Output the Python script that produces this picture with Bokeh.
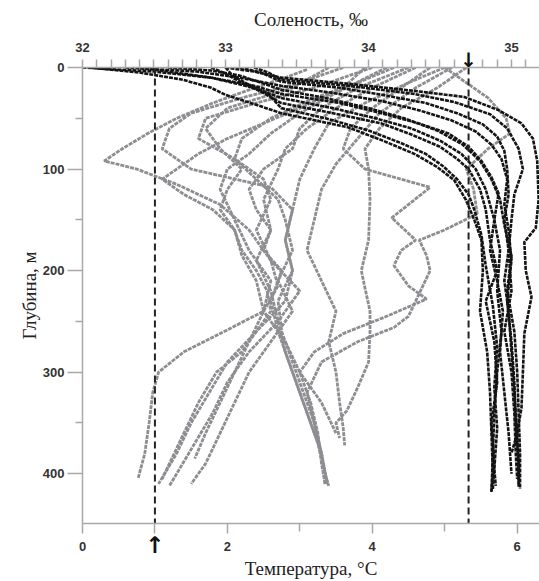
from bokeh.plotting import figure
from bokeh.models import Range1d, LinearAxis, FixedTicker
from bokeh.embed import file_html
from bokeh.resources import INLINE

# ---------------- data ----------------
# Temperature profiles (gray): depth (m) and temperature (°C)
t1_depth = [2, 10, 22, 35, 50, 65, 80, 92, 100, 115, 135, 160, 190, 215, 240, 262, 280, 300, 320, 350, 380, 404]
t1_temp = [3.1, 2.8, 2.3, 1.8, 1.3, 0.9, 0.55, 0.3, 0.75, 1.3, 1.9, 2.3, 2.6, 2.7, 2.5, 1.9, 1.4, 1.05, 0.97, 0.92, 0.86, 0.77]
t2_depth = [0, 15, 30, 45, 60, 80, 100, 118, 140, 170, 200, 230, 260, 290, 320, 350, 380, 410]
t2_temp = [3.6, 3.0, 2.2, 1.5, 1.2, 1.1, 1.5, 2.6, 2.9, 2.8, 2.9, 2.8, 2.4, 2.0, 1.75, 1.5, 1.3, 1.05]
t3_depth = [0, 20, 35, 50, 70, 90, 110, 130, 160, 190, 220, 250, 280, 310, 340, 370, 400, 412]
t3_temp = [4.0, 3.2, 2.4, 1.7, 1.6, 2.1, 2.5, 2.6, 2.4, 2.6, 3.0, 2.7, 2.3, 2.0, 1.8, 1.55, 1.3, 1.2]
t4_depth = [0, 15, 30, 50, 70, 90, 110, 130, 150, 180, 210, 240, 270, 300, 330, 360, 390, 410]
t4_temp = [4.3, 3.8, 3.2, 2.6, 2.2, 2.1, 2.4, 2.7, 2.8, 2.9, 2.7, 2.9, 2.6, 2.3, 2.1, 1.9, 1.7, 1.5]
t5_depth = [0, 20, 40, 60, 80, 100, 130, 160, 190, 220, 250, 280, 310, 340, 370, 400, 412]
t5_temp = [4.6, 4.0, 3.5, 3.1, 2.8, 2.7, 2.5, 2.6, 2.4, 2.6, 2.7, 2.8, 2.95, 3.1, 3.25, 3.35, 3.4]
t6_depth = [0, 15, 35, 55, 80, 110, 140, 170, 200, 230, 260, 290, 320, 350, 380, 410]
t6_temp = [5.0, 4.5, 3.9, 3.4, 3.2, 3.0, 2.9, 2.8, 2.9, 2.7, 2.75, 2.9, 3.05, 3.2, 3.3, 3.35]
t7_depth = [0, 20, 40, 60, 80, 100, 130, 170, 200, 217, 240, 260, 290, 315, 338, 350, 365]
t7_temp = [5.3, 4.9, 4.4, 4.1, 3.9, 3.95, 3.97, 3.95, 3.85, 3.9, 3.97, 3.97, 3.95, 3.8, 3.65, 3.5, 3.55]
t8_depth = [0, 15, 30, 50, 65, 80, 100, 120, 144, 160, 170, 185, 200, 215, 230, 245, 256, 270, 290, 320, 350, 380, 410]
t8_temp = [5.0, 5.3, 5.6, 5.85, 5.9, 5.6, 5.3, 5.4, 5.45, 5.0, 4.65, 4.75, 4.8, 4.7, 4.6, 4.5, 4.3, 3.8, 3.3, 3.1, 3.2, 3.3, 3.38]
t9_depth = [0, 20, 40, 60, 80, 100, 118, 148, 170, 180, 195, 215, 228, 245, 262, 280, 300, 330, 360]
t9_temp = [4.8, 4.4, 4.0, 3.7, 3.6, 3.9, 4.8, 4.27, 4.6, 4.4, 4.3, 4.5, 4.75, 4.2, 3.6, 3.2, 3.0, 3.3, 3.5]
t10_depth = [0, 20, 40, 60, 80, 100, 120, 140, 160, 180, 200, 220, 240, 260, 280, 300, 330, 360, 390, 405]
t10_temp = [3.4, 2.9, 2.0, 1.7, 1.9, 2.2, 2.0, 1.9, 2.1, 2.2, 2.4, 2.55, 2.6, 2.4, 2.2, 1.85, 1.6, 1.4, 1.2, 1.1]
t11_depth = [0, 25, 45, 65, 85, 100, 120, 150, 180, 210, 240, 270, 300, 330, 360, 390, 410]
t11_temp = [4.2, 3.5, 3.0, 2.6, 2.3, 2.0, 1.9, 2.1, 2.3, 2.6, 2.5, 2.8, 3.0, 3.15, 3.25, 3.3, 3.35]
t12_depth = [0, 20, 40, 55, 70, 85, 100, 110, 125, 140, 160, 185, 210, 240, 270, 300, 330, 360, 385]
t12_temp = [3.9, 3.6, 3.0, 2.5, 2.0, 1.6, 1.3, 1.1, 1.4, 1.8, 2.1, 2.2, 2.4, 2.5, 2.3, 2.1, 1.9, 1.7, 1.55]
t13_depth = [0, 20, 40, 60, 80, 100, 120, 140, 160, 180, 200, 230, 260, 290, 320, 350, 380, 410]
t13_temp = [4.5, 3.8, 3.3, 3.0, 2.9, 2.5, 2.3, 2.4, 2.6, 2.5, 2.75, 2.6, 2.7, 2.85, 3.0, 3.15, 3.3, 3.38]
t14_depth = [0, 20, 45, 70, 95, 120, 150, 180, 210, 240, 270, 300, 330, 355, 372]
t14_temp = [5.1, 4.6, 4.1, 3.8, 3.5, 3.3, 3.2, 3.1, 3.3, 3.5, 3.4, 3.5, 3.55, 3.6, 3.62]

# Salinity profiles (black): depth (m) and salinity (‰)
s1_depth = [0, 4, 10, 18, 26, 35, 45, 55, 65, 78, 92, 108, 124, 150, 180, 220, 260, 300, 340, 380, 418]
s1_sal = [32.0, 32.5, 32.9, 33.2, 33.39, 33.8, 34.09, 34.35, 34.56, 34.7, 34.79, 34.86, 34.91, 34.88, 34.92, 34.9, 34.93, 34.9, 34.88, 34.87, 34.86]
s2_depth = [0, 4, 10, 18, 25, 33, 42, 52, 63, 76, 90, 110, 135, 160, 190, 230, 270, 310, 350, 390, 410]
s2_sal = [32.3, 32.8, 33.1, 33.39, 33.75, 34.09, 34.35, 34.58, 34.75, 34.86, 34.93, 34.97, 34.95, 34.98, 35.0, 34.97, 35.0, 35.02, 35.03, 35.05, 35.05]
s3_depth = [0, 6, 14, 24, 35, 45, 55, 66, 78, 90, 100, 120, 140, 170, 200, 230, 270, 310, 350, 390, 415]
s3_sal = [32.9, 33.0, 33.1, 33.25, 33.39, 33.75, 34.09, 34.3, 34.5, 34.62, 34.7, 34.78, 34.82, 34.85, 34.9, 34.82, 34.88, 34.9, 34.86, 34.88, 34.87]
s4_depth = [0, 5, 14, 20, 27, 35, 45, 56, 68, 82, 100, 125, 150, 180, 220, 260, 300, 340, 380, 405]
s4_sal = [33.1, 33.25, 33.39, 33.8, 34.1, 34.4, 34.62, 34.8, 34.9, 34.95, 34.97, 34.98, 34.95, 34.98, 35.0, 34.95, 35.0, 35.02, 35.03, 35.04]
s5_depth = [0, 4, 10, 16, 23, 29, 42, 55, 70, 92, 130, 158, 172, 200, 226, 262, 300, 335, 360, 380]
s5_sal = [33.0, 33.2, 33.39, 33.86, 34.32, 34.67, 34.91, 35.07, 35.15, 35.18, 35.19, 35.17, 35.09, 35.1, 35.14, 35.09, 35.08, 35.07, 35.04, 35.0]
s6_depth = [0, 5, 12, 20, 27, 36, 45, 59, 72, 85, 98, 111, 130, 150, 170, 200, 240, 280, 320, 360, 400, 417]
s6_sal = [32.05, 32.4, 32.7, 32.9, 33.0, 33.2, 33.39, 33.86, 34.1, 34.32, 34.48, 34.6, 34.68, 34.74, 34.79, 34.8, 34.78, 34.83, 34.85, 34.86, 34.87, 34.86]
s7_depth = [0, 3, 8, 15, 22, 30, 40, 50, 62, 76, 92, 110, 130, 155, 185, 220, 260, 300, 340, 380, 415]
s7_sal = [32.6, 32.9, 33.1, 33.25, 33.39, 33.7, 34.0, 34.25, 34.48, 34.66, 34.78, 34.86, 34.92, 34.95, 35.0, 34.97, 35.02, 35.04, 35.05, 35.06, 35.06]
s8_depth = [0, 8, 16, 26, 40, 50, 62, 74, 85, 97, 110, 125, 140, 165, 195, 235, 275, 315, 355, 395, 412]
s8_sal = [33.0, 33.05, 33.15, 33.3, 33.39, 33.7, 34.0, 34.22, 34.4, 34.52, 34.62, 34.7, 34.74, 34.79, 34.82, 34.87, 34.9, 34.88, 34.9, 34.88, 34.89]
s9_depth = [0, 10, 20, 30, 40, 50, 60, 72, 85, 100, 120, 150, 180, 210, 240, 280, 320, 360, 400]
s9_sal = [32.4, 32.9, 33.2, 33.39, 33.75, 34.05, 34.3, 34.5, 34.65, 34.75, 34.82, 34.88, 34.85, 34.9, 34.94, 34.92, 34.95, 34.98, 35.0]
s10_depth = [0, 5, 12, 18, 26, 34, 46, 60, 80, 100, 125, 150, 180, 210, 240, 280, 320, 360, 400, 413]
s10_sal = [33.2, 33.3, 33.39, 33.86, 34.32, 34.6, 34.85, 34.97, 35.05, 35.08, 35.02, 35.0, 34.98, 34.95, 34.98, 35.0, 35.02, 35.04, 35.05, 35.05]

temp_profiles = [(t1_temp, t1_depth), (t2_temp, t2_depth), (t3_temp, t3_depth), (t4_temp, t4_depth),
                 (t5_temp, t5_depth), (t6_temp, t6_depth), (t7_temp, t7_depth), (t8_temp, t8_depth),
                 (t9_temp, t9_depth), (t10_temp, t10_depth), (t11_temp, t11_depth), (t12_temp, t12_depth),
                 (t13_temp, t13_depth), (t14_temp, t14_depth)]
sal_profiles = [(s1_sal, s1_depth), (s2_sal, s2_depth), (s3_sal, s3_depth), (s4_sal, s4_depth),
                (s5_sal, s5_depth), (s6_sal, s6_depth), (s7_sal, s7_depth), (s8_sal, s8_depth),
                (s9_sal, s9_depth), (s10_sal, s10_depth)]

# reference markers
ref_temp = 1.0
ref_sal = 34.7

# axes ticks
temp_ticks = [0, 2, 4, 6]
temp_minor = [3, 5]
sal_ticks = [32, 33, 34, 35]
sal_minor = [round(32 + 0.1 * i, 1) for i in range(33)]
depth_ticks = [0, 100, 200, 300, 400]
depth_minor = [50, 150, 250, 350, 450]

temp_range = (0, 6.31)
sal_range = (32, 35.196)
depth_range = (449, 0)

# ---------------- figure ----------------
GRAY = "#8e8e92"
BLACK = "#141414"
AXIS = "#a8a8a8"
LABEL = "#333333"

p = figure(width=539, height=581, output_backend="svg", toolbar_location=None,
           x_range=Range1d(*temp_range), y_range=Range1d(*depth_range),
           x_axis_location=None,
           min_border_left=82, min_border_right=0, min_border_top=67, min_border_bottom=58)
p.extra_x_ranges = {"sal": Range1d(*sal_range)}
p.grid.visible = False
p.outline_line_color = None
p.background_fill_color = "white"

for tv, dv in temp_profiles:
    p.line(tv, dv, line_color=GRAY, line_width=2.8, line_dash="4 1")

for sv, dv in sal_profiles:
    p.line(sv, dv, line_color=BLACK, line_width=2.6, line_dash="4 1", x_range_name="sal")

# dashed reference lines
p.segment(x0=[ref_temp], y0=[depth_range[1]], x1=[ref_temp], y1=[depth_range[0]],
          line_color="#222222", line_width=2, line_dash="7 4")
p.segment(x0=[ref_sal], y0=[depth_range[1]], x1=[ref_sal], y1=[depth_range[0]],
          line_color="#222222", line_width=2, line_dash="7 4", x_range_name="sal")


def base_style(ax):
    ax.major_label_text_font = "Liberation Sans"
    ax.major_label_text_font_size = "13px"
    ax.major_label_text_font_style = "bold"
    ax.major_label_text_color = LABEL
    ax.axis_line_color = AXIS
    ax.axis_line_width = 1.5
    ax.major_tick_line_color = AXIS
    ax.minor_tick_line_color = AXIS
    ax.major_tick_line_width = 1.5
    ax.minor_tick_line_width = 1.5
    ax.major_tick_in = 0
    ax.minor_tick_in = 0


def title_style(ax, label):
    ax.axis_label = label
    ax.axis_label_text_font = "Liberation Serif"
    ax.axis_label_text_font_size = "19px"
    ax.axis_label_text_font_style = "normal"
    ax.axis_label_text_color = "#222222"


def bare(ax):
    ax.axis_line_color = None
    ax.major_tick_line_color = None
    ax.minor_tick_line_color = None
    ax.major_tick_out = 0
    ax.minor_tick_out = 0


# ---- bottom: axis line + ticks + arrow at ref temperature, then number labels + title
xb_line = LinearAxis()
base_style(xb_line)
xb_line.ticker = FixedTicker(ticks=temp_ticks + [ref_temp], minor_ticks=temp_minor)
xb_line.major_label_overrides = {0: "", 2: "", 4: "", 6: "", 1: "↑"}
xb_line.major_label_text_font = "DejaVu Sans"
xb_line.major_label_text_font_size = "23px"
xb_line.major_label_text_color = "#111111"
xb_line.major_tick_out = 10
xb_line.minor_tick_out = 8
xb_line.major_label_standoff = -2
p.add_layout(xb_line, "below")

xb_num = LinearAxis()
base_style(xb_num)
bare(xb_num)
xb_num.ticker = FixedTicker(ticks=temp_ticks, minor_ticks=[])
xb_num.major_label_standoff = -19
title_style(xb_num, "Температура, °C")
xb_num.axis_label_standoff = 4
p.add_layout(xb_num, "below")

# ---- left: depth
yl = p.yaxis[0]
base_style(yl)
yl.ticker = FixedTicker(ticks=depth_ticks, minor_ticks=depth_minor)
title_style(yl, "Глубина, м")
yl.major_tick_out = 15
yl.minor_tick_out = 7
yl.major_label_standoff = 3
yl.axis_label_standoff = 0

# ---- top: axis line + ticks + arrow at ref salinity, then number labels + title
xt_line = LinearAxis(x_range_name="sal")
base_style(xt_line)
xt_line.ticker = FixedTicker(ticks=[ref_sal], minor_ticks=sal_minor)
xt_line.major_label_overrides = {ref_sal: "↓"}
xt_line.major_label_text_font = "DejaVu Sans"
xt_line.major_label_text_font_size = "20px"
xt_line.major_label_text_color = "#111111"
xt_line.major_tick_out = 8
xt_line.minor_tick_out = 8
xt_line.major_label_standoff = -12
p.add_layout(xt_line, "above")

xt_num = LinearAxis(x_range_name="sal")
base_style(xt_num)
bare(xt_num)
xt_num.ticker = FixedTicker(ticks=sal_ticks, minor_ticks=[])
xt_num.major_label_standoff = -7
title_style(xt_num, "Соленость, ‰")
xt_num.axis_label_standoff = 10
p.add_layout(xt_num, "above")

open("out.html", "w").write(file_html(p, INLINE))
